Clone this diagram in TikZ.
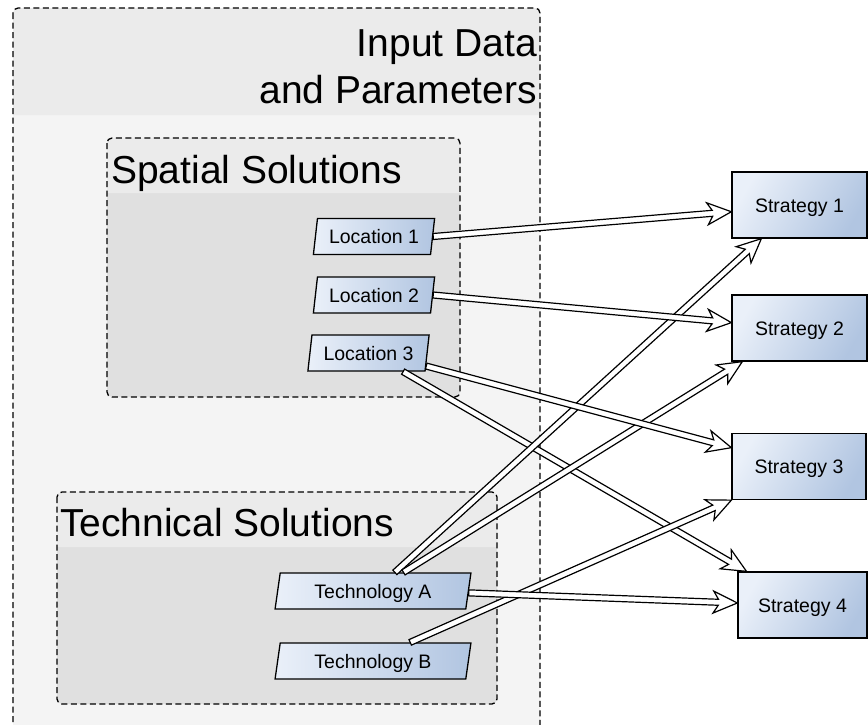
\documentclass[tikz,border=0pt]{standalone}
\usepackage{fontspec}
\setmainfont{Liberation Sans}
\usetikzlibrary{shapes.geometric,calc}
\definecolor{hdr}{HTML}{EBEBEB}
\definecolor{outerbody}{HTML}{F4F4F4}
\definecolor{innerbody}{HTML}{E0E0E0}
\definecolor{bl}{HTML}{EAF0F9}
\definecolor{bd}{HTML}{B1C5E1}
\begin{document}
\begin{tikzpicture}[x=1pt,y=-1pt,
  dashborder/.style={draw=black, dash pattern=on 6pt off 3.5pt, line width=1.3pt, rounded corners=5pt},
  bigtitle/.style={font=\fontsize{39}{47}\selectfont, inner sep=0pt},
  para/.style={trapezium, trapezium left angle=77, trapezium right angle=103,
    trapezium stretches=true, draw=black, line width=1.3pt, left color=bl, right color=bd,
    minimum height=36pt, inner sep=0pt, text height=14pt, text depth=0pt,
    font=\fontsize{19.5}{22}\selectfont},
  strat/.style={rectangle, draw=black, line width=1.3pt, left color=bl, right color=bd,
    shading angle=60, minimum height=66pt, inner sep=0pt, text height=14pt, text depth=0pt,
    font=\fontsize{19.5}{22}\selectfont},
  hollowlink/.style={draw=black, fill=white, line width=1.2pt, line join=miter,
    to path={
      ($(\tikztostart)!3pt!90:(\tikztotarget)$) --
      ($($(\tikztotarget)!19pt!(\tikztostart)$)!3pt!-90:(\tikztostart)$) --
      ($($(\tikztotarget)!24pt!(\tikztostart)$)!11pt!-90:(\tikztostart)$) --
      (\tikztotarget) --
      ($($(\tikztotarget)!24pt!(\tikztostart)$)!11pt!90:(\tikztostart)$) --
      ($($(\tikztotarget)!19pt!(\tikztostart)$)!3pt!90:(\tikztostart)$) --
      ($(\tikztostart)!3pt!-90:(\tikztotarget)$) -- cycle}}
]
\useasboundingbox (0,0) rectangle (868,724);
\fill[white] (0,0) rectangle (868,724);
\clip (0,0) rectangle (868,724);

% outer container
\fill[outerbody, rounded corners=5pt] (13,8) rectangle (540,740);
\fill[hdr] (13,115) [rounded corners=5pt] -- (13,8) -- (540,8) [sharp corners] -- (540,115) -- cycle;
\draw[dashborder] (13,8) rectangle (540,740);
\node[bigtitle, anchor=north east, align=right] (title) at (537,29) {Input Data\\and Parameters};

% spatial container
\fill[innerbody, rounded corners=5pt] (107,138) rectangle (460,397);
\fill[hdr] (107,193) [rounded corners=5pt] -- (107,138) -- (460,138) [sharp corners] -- (460,193) -- cycle;
\draw[dashborder] (107,138) rectangle (460,397);
\node[bigtitle, anchor=base west] (spatial) at (111,183) {Spatial Solutions};

% technical container
\fill[innerbody, rounded corners=5pt] (57,492) rectangle (497,704);
\fill[hdr] (57,547) [rounded corners=5pt] -- (57,492) -- (497,492) [sharp corners] -- (497,547) -- cycle;
\draw[dashborder] (57,492) rectangle (497,704);
\node[bigtitle, anchor=base west] (technical) at (60,536) {Technical Solutions};

% input nodes
\node[para, minimum width=122pt] (loc1) at (374,236.5) {Location 1};
\node[para, minimum width=122pt] (loc2) at (374,295) {Location 2};
\node[para, minimum width=122pt] (loc3) at (368.5,353) {Location 3};
\node[para, minimum width=196pt] (ta) at (373,591) {Technology A};
\node[para, minimum width=196pt] (tb) at (373,661) {Technology B};

% strategies
\node[strat, minimum width=135pt] (s1) at (799.5,205) {Strategy 1};
\node[strat, minimum width=135pt] (s2) at (799.5,328) {Strategy 2};
\node[strat, minimum width=134pt] (s3) at (799,466.5) {Strategy 3};
\node[strat, minimum width=129pt] (s4) at (802.5,605) {Strategy 4};

% connector end points on the nodes
\coordinate (l1out) at (loc1.east);
\coordinate (l2out) at (loc2.east);
\coordinate (l3outA) at ($(loc3.bottom right corner)!0.15!(loc3.top right corner)$);
\coordinate (l3outB) at ($(loc3.bottom left corner)!0.81!(loc3.bottom right corner)$);
\coordinate (taoutA) at ($(ta.top left corner)!0.6!(ta.top right corner)$);
\coordinate (taoutB) at ($(ta.top left corner)!0.645!(ta.top right corner)$);
\coordinate (taoutC) at ($(ta.top right corner)!0.55!(ta.bottom right corner)$);
\coordinate (tbout) at ($(tb.top left corner)!0.68!(tb.top right corner)$);
\coordinate (s1inA) at ($(s1.north west)!0.6!(s1.south west)$);
\coordinate (s1inB) at ($(s1.south west)!0.22!(s1.south east)$);
\coordinate (s2inA) at ($(s2.north west)!0.42!(s2.south west)$);
\coordinate (s2inB) at ($(s2.south west)!0.08!(s2.south east)$);
\coordinate (s3inA) at ($(s3.north west)!0.22!(s3.south west)$);
\coordinate (s3inB) at (s3.south west);
\coordinate (s4inA) at ($(s4.north west)!0.07!(s4.north east)$);
\coordinate (s4inB) at ($(s4.north west)!0.47!(s4.south west)$);

% connectors
\path[hollowlink] (l3outB) to (s4inA);
\path[hollowlink] (taoutA) to (s1inB);
\path[hollowlink] (taoutB) to (s2inB);
\path[hollowlink] (l1out) to (s1inA);
\path[hollowlink] (l2out) to (s2inA);
\path[hollowlink] (l3outA) to (s3inA);
\path[hollowlink] (tbout) to (s3inB);
\path[hollowlink] (taoutC) to (s4inB);
\end{tikzpicture}
\end{document}
